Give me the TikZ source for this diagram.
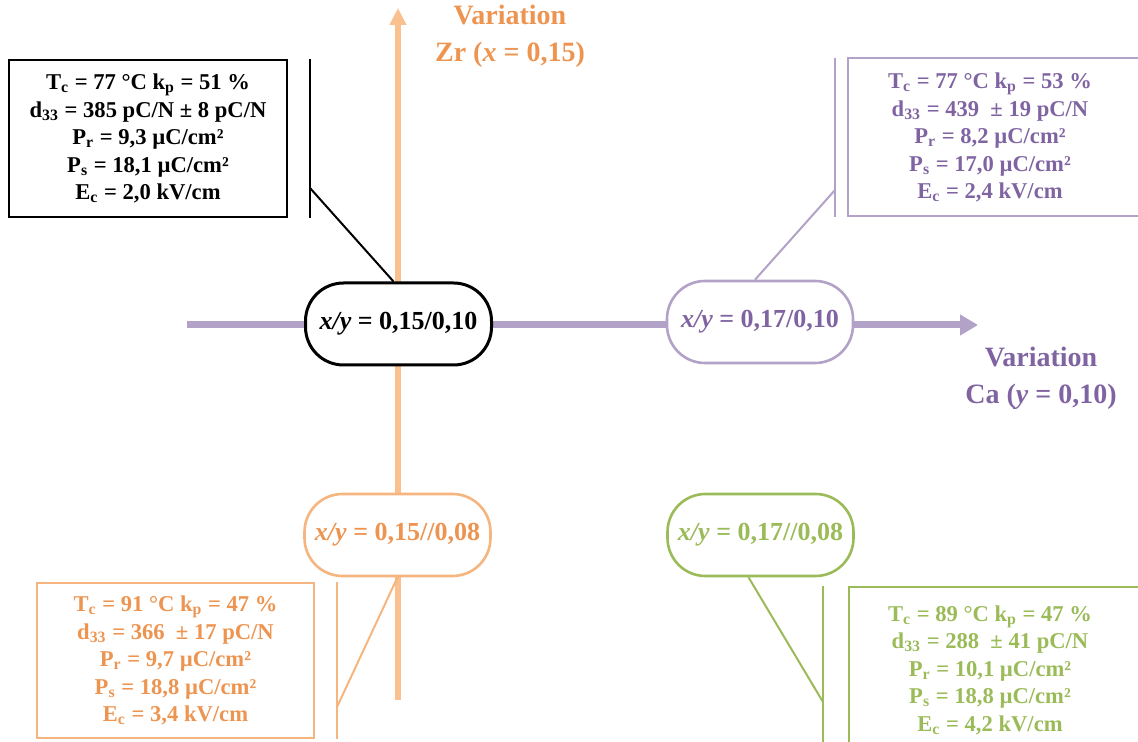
\documentclass[tikz,border=0pt]{standalone}
\usepackage{fontspec}
\setmainfont{Liberation Serif}
\usetikzlibrary{arrows.meta}
\definecolor{orT}{RGB}{237,148,80}
\definecolor{orL}{RGB}{250,192,143}
\definecolor{orB}{RGB}{246,180,126}
\definecolor{puT}{RGB}{128,100,162}
\definecolor{puL}{RGB}{179,162,199}
\definecolor{grT}{RGB}{155,187,89}
\begin{document}
\begin{tikzpicture}[x=0.5pt,y=-0.5pt,
  databox/.style={line width=1.4pt, align=center, inner sep=0pt,
    font=\bfseries\fontsize{11.3}{13.75}\selectfont},
  ratio/.style={draw, fill=white, rounded corners=19pt, minimum width=93pt,
    minimum height=41pt, inner sep=0pt, line width=1.3pt,
    font=\bfseries\fontsize{13}{15}\selectfont},
  callout/.style={line width=1pt},
  axislabel/.style={align=center, font=\bfseries\fontsize{14}{18.5}\selectfont}]
\useasboundingbox (0,0) rectangle (1138,742);
\clip (0,0) rectangle (1138,742);

% axes
\coordinate (vbot) at (398,700);
\coordinate (vtop) at (398,8);
\coordinate (hl) at (187,325);
\coordinate (hr) at (978,325);
\draw[orL, line width=2.8pt, -{Triangle[width=8pt,length=8.5pt]}] (vbot) -- (vtop);
\draw[puL, line width=3.5pt, -{Triangle[width=10pt,length=9pt]}] (hl) -- (hr);

% axis labels
\node[axislabel, text=orT] (labzr) at (510,36.5) {Variation\\Zr (\textit{x} = 0,15)};
\node[axislabel, text=puT] (labca) at (1041,378) {Variation\\Ca (\textit{y} = 0,10)};

% composition nodes
\node[ratio, draw=black, line width=1.5pt] (n1) at (398.5,324) {\textit{x/y} = 0,15/0,10};
\node[ratio, draw=puL, text=puT] (n2) at (760,322) {\textit{x/y} = 0,17/0,10};
\node[ratio, draw=orB, text=orT] (n3) at (397.5,535) {\textit{x/y} = 0,15//0,08};
\node[ratio, draw=grT, text=grT] (n4) at (760.5,535) {\textit{x/y} = 0,17//0,08};

% black data box
\node[databox, draw=black, minimum width=139pt, minimum height=78.5pt] (d1) at (148,138.5)
 {T\textsubscript{c} = 77 °C k\textsubscript{p} = 51 \%\\
  d\textsubscript{33} = 385 pC/N ± 8 pC/N\\
  P\textsubscript{r} = 9,3 µC/cm²\\
  P\textsubscript{s} = 18,1 µC/cm²\\
  E\textsubscript{c} = 2,0 kV/cm};
\coordinate (c1t) at (310,59);
\coordinate (c1b) at (310,218);
\coordinate (c1m) at (310,188);
\draw[callout, black] (c1t) -- (c1b);
\draw[callout, black] (c1m) -- ([xshift=-2.5pt]n1.north);

% purple data box
\draw[puL, line width=1.4pt] (848,58) rectangle (1150,216);
\node[databox, text=puT] (d2) at (990,137.5)
 {T\textsubscript{c} = 77 °C k\textsubscript{p} = 53 \%\\
  d\textsubscript{33} = 439 ~± 19 pC/N\\
  P\textsubscript{r} = 8,2 µC/cm²\\
  P\textsubscript{s} = 17,0 µC/cm²\\
  E\textsubscript{c} = 2,4 kV/cm};
\coordinate (c2t) at (835,58);
\coordinate (c2b) at (835,217);
\coordinate (c2m) at (835,190);
\draw[callout, puL] (c2t) -- (c2b);
\draw[callout, puL] (c2m) -- ([xshift=-2.5pt]n2.north);

% orange data box
\node[databox, draw=orB, text=orT, minimum width=138.5pt, minimum height=77.5pt] (d3) at (175.5,660.5)
 {T\textsubscript{c} = 91 °C k\textsubscript{p} = 47 \%\\
  d\textsubscript{33} = 366 ~± 17 pC/N\\
  P\textsubscript{r} = 9,7 µC/cm²\\
  P\textsubscript{s} = 18,8 µC/cm²\\
  E\textsubscript{c} = 3,4 kV/cm};
\coordinate (c3t) at (337,582);
\coordinate (c3b) at (337,739);
\coordinate (c3m) at (337,707);
\draw[callout, orB] (c3t) -- (c3b);
\draw[callout, orB] (c3m) -- (n3.south);

% green data box
\draw[grT, line width=1.4pt] (849,587) rectangle (1150,760);
\node[databox, text=grT] (d4) at (990,670)
 {T\textsubscript{c} = 89 °C k\textsubscript{p} = 47 \%\\
  d\textsubscript{33} = 288 ~± 41 pC/N\\
  P\textsubscript{r} = 10,1 µC/cm²\\
  P\textsubscript{s} = 18,8 µC/cm²\\
  E\textsubscript{c} = 4,2 kV/cm};
\coordinate (c4t) at (823,586);
\coordinate (c4b) at (823,750);
\coordinate (c4m) at (823,702);
\draw[callout, grT] (c4t) -- (c4b);
\draw[callout, grT] (c4m) -- ([xshift=-6pt]n4.south);
\end{tikzpicture}
\end{document}
